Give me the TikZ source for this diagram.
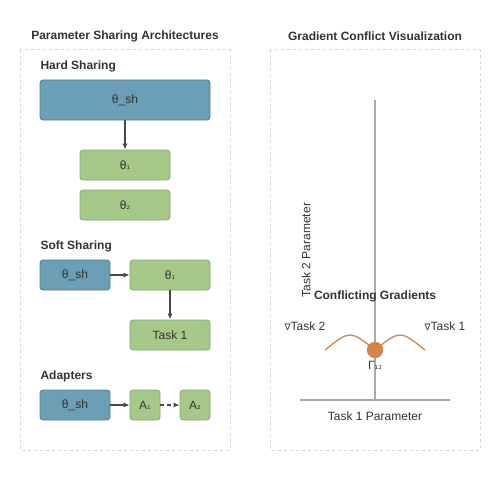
\documentclass[tikz,border=0pt]{standalone}
\usepackage{fontspec}
\setmainfont{Liberation Sans}
\newfontfamily\dv{DejaVu Sans}
\usetikzlibrary{arrows.meta}
\definecolor{txt}{HTML}{333333}
\definecolor{bluef}{HTML}{6A9FB5}
\definecolor{blued}{HTML}{4F7F94}
\definecolor{greenf}{HTML}{A6C98A}
\definecolor{greend}{HTML}{82A96A}
\definecolor{panel}{HTML}{D6D6D6}
\definecolor{axis}{HTML}{AAAAAA}
\definecolor{orng}{HTML}{D2844A}
\newcommand{\sub}[1]{{\dv\fontsize{9}{10}\selectfont #1}}
\tikzset{
  panelbox/.style={draw=panel, dashed, line width=1pt},
  ttl/.style={font=\bfseries\fontsize{12}{14}\selectfont, text=txt},
  sec/.style={font=\bfseries\fontsize{12}{14}\selectfont, text=txt, anchor=west},
  lbl/.style={font=\fontsize{12}{14}\selectfont, text=txt},
  bbox/.style={draw=blued, fill=bluef, rounded corners=3pt, line width=0.8pt, font=\fontsize{12}{14}\selectfont, text=txt, inner sep=0pt},
  gbox/.style={draw=greend, fill=greenf, rounded corners=3pt, line width=0.8pt, font=\fontsize{12}{14}\selectfont, text=txt, inner sep=0pt},
  arr/.style={draw=txt!90, line width=1.2pt, -{Latex[length=6pt,width=5pt]}},
}
\begin{document}
\begin{tikzpicture}[x=1pt,y=-1pt]
\useasboundingbox (0,0) rectangle (500,500);
% panels
\draw[panelbox] (20,50) rectangle (230,450);
\draw[panelbox] (270,50) rectangle (480,450);
\node[ttl] (t1) at (125,36) {Parameter Sharing Architectures};
\node[ttl] (t2) at (375,36) {Gradient Conflict Visualization};
% hard sharing
\node[sec] (hs) at (37,66) {Hard Sharing};
\node[bbox, minimum width=170pt, minimum height=40pt] (hsh) at (125,100) {θ\_sh};
\node[gbox, minimum width=90pt, minimum height=30pt] (h1) at (125,165) {θ\sub{₁}};
\node[gbox, minimum width=90pt, minimum height=30pt] (h2) at (125,205) {θ\sub{₂}};
\draw[arr] (hsh.south) -- (h1.north);
% soft sharing
\node[sec] (ss) at (37,246) {Soft Sharing};
\node[bbox, minimum width=70pt, minimum height=30pt] (ssh) at (75,275) {θ\_sh};
\node[gbox, minimum width=80pt, minimum height=30pt] (s1) at (170,275) {θ\sub{₁}};
\node[gbox, minimum width=80pt, minimum height=30pt] (task) at (170,335) {Task 1};
\draw[arr] (ssh.east) -- (s1.west);
\draw[arr] (s1.south) -- (task.north);
% adapters
\node[sec] (ad) at (37,376) {Adapters};
\node[bbox, minimum width=70pt, minimum height=30pt] (ash) at (75,405) {θ\_sh};
\node[gbox, minimum width=30pt, minimum height=30pt] (a1) at (145,405) {A\sub{₁}};
\node[gbox, minimum width=30pt, minimum height=30pt] (a2) at (195,405) {A\sub{₂}};
\draw[arr] (ash.east) -- (a1.west);
\draw[arr, dashed, dash pattern=on 4pt off 3pt] (a1.east) -- (a2.west);
% right panel axes
\coordinate (vtop) at (375,100);
\coordinate (vbot) at (375,400);
\coordinate (hl) at (300,400);
\coordinate (hr) at (450,400);
\draw[axis, line width=2pt] (vtop) -- (vbot);
\draw[axis, line width=2pt] (hl) -- (hr);
\node[lbl, rotate=90] (yl) at (306,250) {Task 2 Parameter};
\node[lbl] (xl) at (375,416) {Task 1 Parameter};
\node[font=\bfseries\fontsize{12}{14}\selectfont, text=txt] (cg) at (375,296) {Conflicting Gradients};
% gradients
\coordinate (l0) at (325,350);
\coordinate (r0) at (425,350);
\node[circle, fill=orng, inner sep=0pt, minimum size=16pt] (pt) at (375,350) {};
\draw[orng, line width=1.3pt] (l0) .. controls (350,330) .. (pt.center);
\draw[orng, line width=1.3pt] (pt.center) .. controls (400,330) .. (r0);
\node[circle, fill=orng, inner sep=0pt, minimum size=16pt] (pt2) at (375,350) {};
\node[lbl] (g2) at (305,326) {\sub{∇}Task 2};
\node[lbl] (g1) at (445,326) {\sub{∇}Task 1};
\node[lbl] (gam) at (375,365) {Γ\sub{₁₂}};
\end{tikzpicture}
\end{document}
